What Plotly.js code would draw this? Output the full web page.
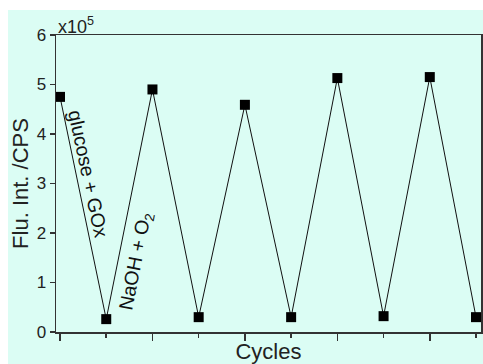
<!DOCTYPE html>
<html>
<head>
<meta charset="utf-8">
<script src="https://cdn.plot.ly/plotly-3.0.1.min.js"></script>
<style>
html,body{margin:0;padding:0;background:#ffffff;}
#chart{position:absolute;left:8px;top:10px;width:475px;height:354px;}
</style>
</head>
<body>
<div id="chart"></div>
<script>
const cycles = [1, 2, 3, 4, 5, 6, 7, 8, 9, 10];
const intensity = [4.75, 0.26, 4.90, 0.30, 4.59, 0.30, 5.13, 0.32, 5.15, 0.30];
const yTicks = [0, 1, 2, 3, 4, 5, 6];
const bg = '#dbfdf4';
const axisColor = '#333333';
const font = 'Liberation Sans, Arial, sans-serif';

const trace = {
  x: cycles,
  y: intensity,
  type: 'scatter',
  mode: 'lines+markers',
  line: {color: '#111111', width: 1},
  marker: {symbol: 'square', size: 10, color: '#000000'},
  cliponaxis: false,
  hoverinfo: 'skip'
};

const layout = {
  width: 475,
  height: 354,
  margin: {l: 48, r: 2, t: 25, b: 32},
  paper_bgcolor: bg,
  plot_bgcolor: bg,
  showlegend: false,
  font: {family: font, color: '#222222', size: 17},
  xaxis: {
    range: [0.913, 10.108],
    showgrid: false,
    zeroline: false,
    showline: true,
    linecolor: axisColor,
    linewidth: 1.5,
    mirror: true,
    ticks: 'outside',
    tickmode: 'linear',
    tick0: 1,
    dtick: 2,
    ticklen: 7,
    tickwidth: 1.5,
    tickcolor: axisColor,
    showticklabels: false,
    minor: {ticks: 'outside', tick0: 1, dtick: 1, ticklen: 4, tickwidth: 1.5, tickcolor: axisColor},
    title: {text: 'Cycles', font: {size: 22, family: font, color: '#222222'}, standoff: 4}
  },
  yaxis: {
    range: [0, 6],
    showgrid: false,
    zeroline: false,
    showline: true,
    linecolor: axisColor,
    linewidth: 1.5,
    mirror: true,
    ticks: 'outside',
    tickmode: 'array',
    tickvals: yTicks,
    ticktext: yTicks.map(String),
    ticklen: 5,
    tickwidth: 1.5,
    tickcolor: axisColor,
    tickfont: {size: 17, family: font, color: '#222222'},
    title: {text: 'Flu. Int. /CPS', font: {size: 22, family: font, color: '#222222'}, standoff: 2}
  },
  annotations: [
    {
      xref: 'paper', yref: 'paper', x: 0, y: 1,
      xanchor: 'left', yanchor: 'bottom', yshift: -4,
      text: 'x10<sup>5</sup>', showarrow: false,
      font: {size: 18, family: font, color: '#222222'}
    },
    {
      xref: 'x', yref: 'y', x: 1.62, y: 3.2,
      text: 'glucose + GOx', showarrow: false, textangle: 78,
      font: {size: 19.5, family: font, color: '#111111'}
    },
    {
      xref: 'x', yref: 'y', x: 2.65, y: 1.42,
      text: 'NaOH + O<sub>2</sub>', showarrow: false, textangle: -79,
      font: {size: 19.5, family: font, color: '#111111'}
    }
  ]
};

Plotly.newPlot('chart', [trace], layout, {displayModeBar: false, staticPlot: true});
</script>
</body>
</html>
